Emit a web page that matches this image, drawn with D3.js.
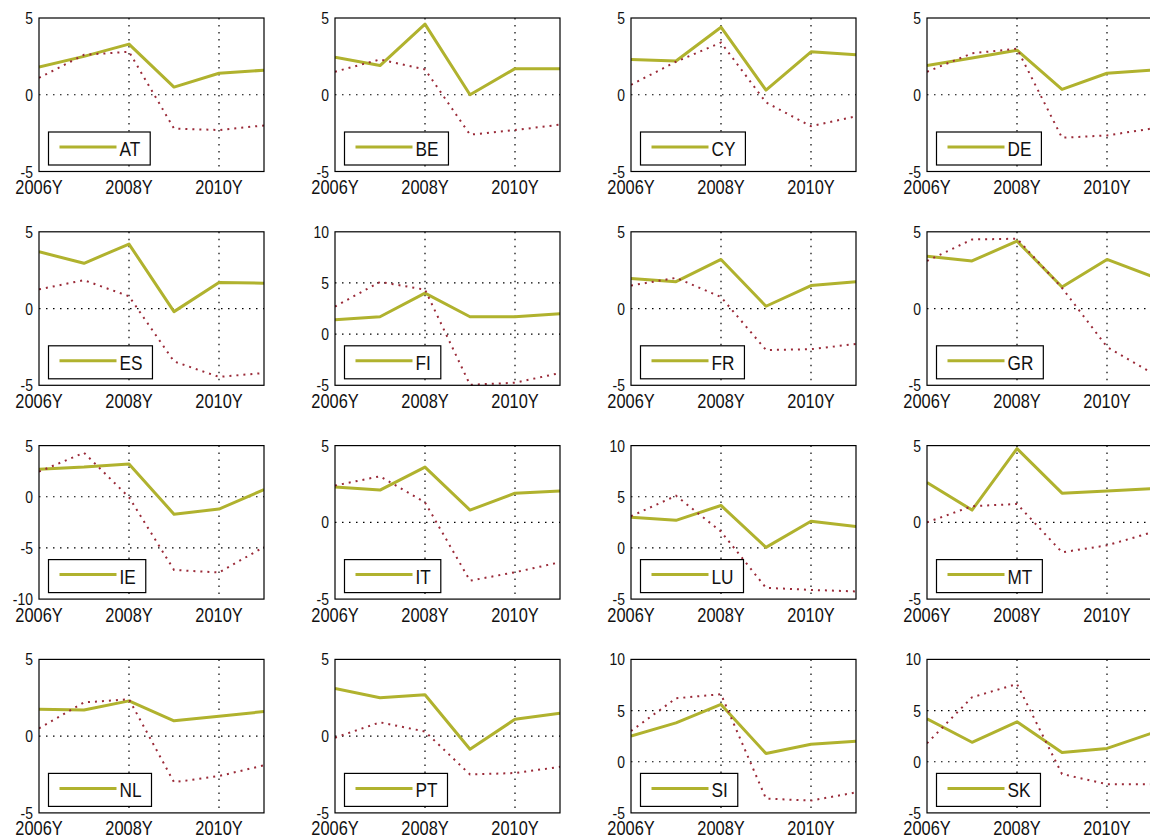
<!DOCTYPE html>
<html>
<head>
<meta charset="utf-8">
<script src="https://cdn.jsdelivr.net/npm/d3@7"></script>
<style>
  html, body { margin: 0; padding: 0; background: #fff; }
  svg { display: block; }
  text { font-family: "Liberation Sans", Arial, Helvetica, sans-serif; fill: #111; }
</style>
</head>
<body>
<svg id="chart" width="1150" height="840"></svg>
<script>
// Annual observations, one panel per country
const years = [2006, 2007, 2008, 2009, 2010, 2011];
const xTickYears = [2006, 2008, 2010];
const xTickSuffix = "Y";
const countries = ["AT", "BE", "CY", "DE", "ES", "FI", "FR", "GR",
                   "IE", "IT", "LU", "MT", "NL", "PT", "SI", "SK"];

// Solid olive series (legend entry)
const solidSeries = [
  [1.8, 2.5, 3.3, 0.5, 1.4, 1.6],     // AT
  [2.45, 1.9, 4.6, 0.0, 1.7, 1.7],    // BE
  [2.3, 2.2, 4.4, 0.3, 2.8, 2.6],     // CY
  [1.9, 2.4, 2.9, 0.35, 1.4, 1.6],    // DE
  [3.7, 2.95, 4.2, -0.2, 1.7, 1.65],  // ES
  [1.4, 1.7, 4.0, 1.7, 1.7, 2.0],     // FI
  [1.95, 1.75, 3.2, 0.15, 1.5, 1.75], // FR
  [3.4, 3.1, 4.4, 1.4, 3.2, 2.1],     // GR
  [2.7, 2.9, 3.2, -1.7, -1.2, 0.7],   // IE
  [2.3, 2.1, 3.6, 0.8, 1.9, 2.05],    // IT
  [3.0, 2.7, 4.15, 0.05, 2.6, 2.1],   // LU
  [2.6, 0.8, 4.8, 1.9, 2.05, 2.2],    // MT
  [1.75, 1.7, 2.3, 1.0, 1.3, 1.6],    // NL
  [3.1, 2.5, 2.7, -0.85, 1.1, 1.5],   // PT
  [2.5, 3.8, 5.6, 0.8, 1.7, 2.0],     // SI
  [4.2, 1.9, 3.9, 0.9, 1.3, 2.8]      // SK
];

// Dotted red series
const dottedSeries = [
  [1.1, 2.6, 2.8, -2.2, -2.3, -2.0],     // AT
  [1.5, 2.3, 1.65, -2.6, -2.3, -1.95],   // BE
  [0.65, 2.15, 3.4, -0.5, -2.05, -1.4],  // CY
  [1.5, 2.7, 3.0, -2.8, -2.65, -2.2],    // DE
  [1.25, 1.85, 0.8, -3.45, -4.45, -4.2], // ES
  [2.7, 5.1, 4.35, -4.95, -4.75, -3.8],  // FI
  [1.5, 2.0, 0.75, -2.7, -2.65, -2.3],   // FR
  [3.1, 4.5, 4.55, 1.35, -2.5, -4.2],    // GR
  [2.45, 4.3, -0.05, -7.15, -7.4, -4.9], // IE
  [2.4, 3.0, 1.3, -3.8, -3.25, -2.6],    // IT
  [3.1, 5.1, 1.6, -3.9, -4.1, -4.25],    // LU
  [0.0, 1.05, 1.2, -1.95, -1.5, -0.65],  // MT
  [0.5, 2.2, 2.4, -3.0, -2.6, -1.9],     // NL
  [-0.1, 0.9, 0.3, -2.5, -2.4, -2.0],    // PT
  [3.0, 6.2, 6.6, -3.6, -3.8, -3.0],     // SI
  [1.8, 6.3, 7.6, -1.2, -2.2, -2.2]      // SK
];

// Vertical range of each panel
const yDomains = [
  [-5, 5], [-5, 5], [-5, 5], [-5, 5],
  [-5, 5], [-5, 10], [-5, 5], [-5, 5],
  [-10, 5], [-5, 5], [-5, 10], [-5, 5],
  [-5, 5], [-5, 5], [-5, 10], [-5, 10]
];
const yTickStep = 5;

// ---- layout ----
const svg = d3.select("#chart");
const nCols = 4;
const colLeft = 39, colPitch = 296, panelW = 225;
const rowTop = 18, rowPitch = 213.8, panelH = 153.5;
const olive = "#b0b22e";
const red = "#9a2a38";
const narrow = 0.82;

countries.forEach((code, i) => {
  const col = i % nCols, row = Math.floor(i / nCols);
  const left = colLeft + col * colPitch;
  const top = rowTop + row * rowPitch;

  const x = d3.scaleLinear().domain([years[0], years[years.length - 1]]).range([left, left + panelW]);
  const y = d3.scaleLinear().domain(yDomains[i]).range([top + panelH, top]);
  const yTicks = d3.range(yDomains[i][0], yDomains[i][1] + 0.001, yTickStep);

  const g = svg.append("g").attr("class", "panel-" + code);

  const clipId = "clip-" + code;
  g.append("clipPath").attr("id", clipId)
    .append("rect").attr("x", left).attr("y", top - 2).attr("width", panelW).attr("height", panelH + 4);

  // grid
  g.selectAll("line.vgrid").data(xTickYears.filter(t => t > years[0] && t < years[years.length - 1]))
    .join("line").attr("class", "vgrid")
    .attr("x1", d => x(d)).attr("x2", d => x(d))
    .attr("y1", top).attr("y2", top + panelH)
    .attr("stroke", "#000").attr("stroke-width", 1.2).attr("stroke-dasharray", "1.5,5.5");
  g.selectAll("line.hgrid").data(yTicks.filter(t => t > yDomains[i][0] && t < yDomains[i][1]))
    .join("line").attr("class", "hgrid")
    .attr("x1", left).attr("x2", left + panelW)
    .attr("y1", d => y(d)).attr("y2", d => y(d))
    .attr("stroke", "#000").attr("stroke-width", 1.2).attr("stroke-dasharray", "1.5,5.5");

  const line = d3.line().x((d, k) => x(years[k])).y(d => y(d));

  // series
  const plot = g.append("g").attr("clip-path", `url(#${clipId})`);
  plot.append("path").datum(solidSeries[i])
    .attr("d", line).attr("fill", "none")
    .attr("stroke", olive).attr("stroke-width", 3).attr("stroke-linejoin", "round");
  plot.append("path").datum(dottedSeries[i])
    .attr("d", line).attr("fill", "none")
    .attr("stroke", red).attr("stroke-width", 2).attr("stroke-dasharray", "2,5");

  // box
  g.append("rect").attr("x", left).attr("y", top).attr("width", panelW).attr("height", panelH)
    .attr("fill", "none").attr("stroke", "#000").attr("stroke-width", 1.2);

  // y tick labels
  g.selectAll("text.ytick").data(yTicks).join("text").attr("class", "ytick")
    .attr("transform", d => `translate(${left - 6},${y(d)}) scale(${narrow},1)`)
    .attr("text-anchor", "end").attr("dominant-baseline", "central")
    .style("font-size", "17px")
    .text(d => d);

  // x tick labels
  g.selectAll("text.xtick").data(xTickYears).join("text").attr("class", "xtick")
    .attr("transform", d => `translate(${x(d)},${top + panelH + 22.5}) scale(${narrow},1)`)
    .attr("text-anchor", "middle")
    .style("font-size", "20px")
    .text(d => d + xTickSuffix);

  // legend
  const lx = left + 9.5, ly = top + panelH - 39.5, lh = 33;
  const leg = g.append("g");
  const box = leg.append("rect").attr("x", lx).attr("y", ly).attr("height", lh)
    .attr("fill", "#fff").attr("stroke", "#000").attr("stroke-width", 1.2);
  leg.append("line").attr("x1", lx + 11).attr("x2", lx + 68)
    .attr("y1", ly + 15).attr("y2", ly + 15)
    .attr("stroke", olive).attr("stroke-width", 3);
  const lt = leg.append("text")
    .attr("transform", `translate(${lx + 71},${ly + 24}) scale(${narrow},1)`)
    .style("font-size", "21px")
    .text(code);
  const tw = lt.node().getComputedTextLength() * narrow;
  box.attr("width", 71 + tw + 10);
});
</script>
</body>
</html>
